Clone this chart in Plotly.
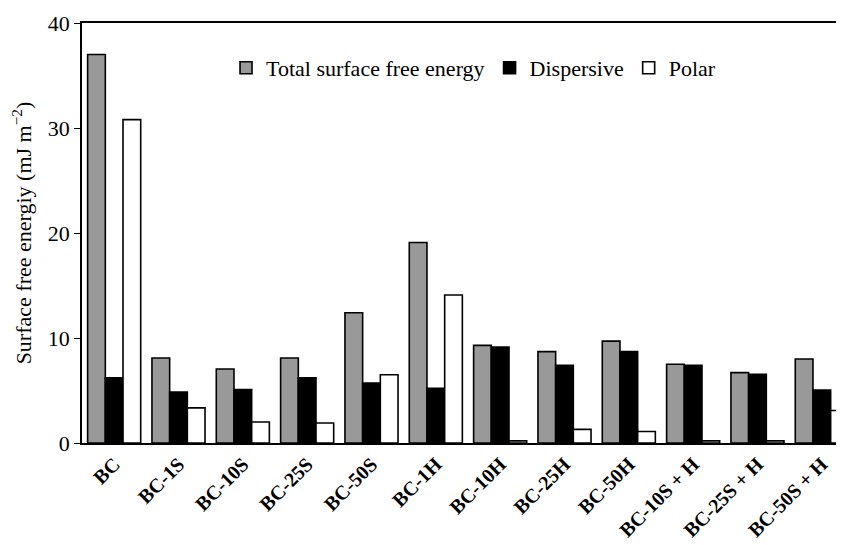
import plotly.graph_objects as go

categories = ["BC", "BC-1S", "BC-10S", "BC-25S", "BC-50S", "BC-1H", "BC-10H",
              "BC-25H", "BC-50H", "BC-10S + H", "BC-25S + H", "BC-50S + H"]
total = [37.0, 8.1, 7.05, 8.1, 12.4, 19.1, 9.3, 8.7, 9.7, 7.5, 6.7, 8.0]
dispersive = [6.2, 4.85, 5.1, 6.2, 5.7, 5.2, 9.15, 7.4, 8.7, 7.4, 6.55, 5.05]
polar = [30.8, 3.35, 2.0, 1.9, 6.5, 14.1, 0.2, 1.3, 1.1, 0.2, 0.2, 3.1]
y_ticks = [0, 10, 20, 30, 40]

FONT = "'Liberation Serif', 'Times New Roman', Times, serif"
line = dict(color="black", width=1.6)

fig = go.Figure()
fig.add_trace(go.Bar(name="Total surface free energy", x=categories, y=total,
                     marker=dict(color="#999999", line=line)))
fig.add_trace(go.Bar(name="Dispersive", x=categories, y=dispersive,
                     marker=dict(color="black", line=line)))
fig.add_trace(go.Bar(name="Polar", x=categories, y=polar,
                     marker=dict(color="white", line=line)))

fig.update_layout(
    width=836, height=537,
    margin=dict(l=74, r=0, t=15, b=102, autoexpand=False),
    paper_bgcolor="white", plot_bgcolor="white",
    barmode="group", bargap=0.175, bargroupgap=0,
    font=dict(family=FONT, color="black"),
    showlegend=True,
    legend=dict(orientation="h", x=0.189, y=0.893, xanchor="left", yanchor="middle",
                font=dict(size=22, family=FONT), bgcolor="rgba(0,0,0,0)",
                itemwidth=30, traceorder="normal"),
    xaxis=dict(range=[-0.5, 11.345], showline=True, linecolor="black", linewidth=1.5,
               mirror=True, ticks="", tickangle=-45,
               tickfont=dict(size=20, family=FONT, weight="bold"),
               showgrid=False, zeroline=False),
    yaxis=dict(range=[0, 40], tickvals=y_ticks, showline=True, linecolor="black",
               linewidth=1.5, ticks="outside", ticklen=6, tickwidth=1.2, tickcolor="black",
               tickfont=dict(size=22, family=FONT), showgrid=False, zeroline=False,
               title=dict(text="Surface free energiy (mJ m<sup>−2</sup>)",
                          font=dict(size=22, family=FONT), standoff=10)),
)

fig.write_html("out.html")
